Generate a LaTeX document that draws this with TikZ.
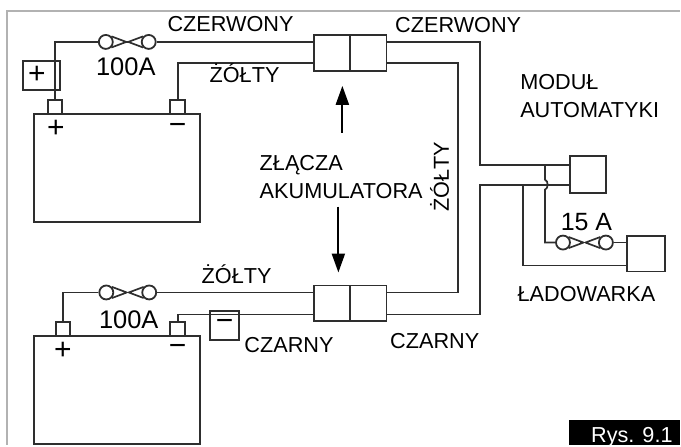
\documentclass[tikz,border=0pt]{standalone}
\usepackage{fontspec}
\setmainfont{Liberation Sans}
\usetikzlibrary{arrows.meta,positioning}

\begin{document}
\begin{tikzpicture}[
  x=1pt, y=-1pt,
  >={Triangle[length=19pt,width=13pt]},
  wire/.style={line width=1.7pt, draw=black!82},
  unit/.style={
    draw=black!82, line width=1.9pt,
    inner sep=0pt, outer sep=0pt
  },
  battery/.style={unit, minimum width=166pt, minimum height=108pt},
  terminal/.style={unit, minimum width=14.5pt, minimum height=14pt, anchor=south},
  halfplug/.style={unit, minimum width=36.5pt, minimum height=36pt},
  label/.style={
    font=\fontsize{21.7}{24}\selectfont,
    inner sep=0pt, text height=15.5pt, text depth=0pt
  },
  rating/.style={label, font=\fontsize{25.5}{28}\selectfont, text height=18.3pt},
  sign/.style={inner sep=0pt, font=\fontsize{30}{32}\selectfont},
  pointer/.style={->, line width=2.2pt, black},
  lobe/.style={draw=black!82, line width=1.8pt, circle, minimum size=14pt, inner sep=0pt},
  fuse/.pic={
    \node[lobe] (-a) at (-21.5,0) {};
    \node[lobe] (-b) at (21.5,0) {};
    \draw[wire, line join=round] (-a.north east) -- (-1,0) -- (-a.south east);
    \draw[wire, line join=round] (-b.north west) -- (1,0) -- (-b.south west);
    \draw[wire] (-4,0) -- (4,0);
  }
]

% Frame
\draw[line width=2.5pt, black!30] (681,11) -- (7,11) -- (7,446);

% Batteries
\node[battery] (batA) at (117,168) {};
\node[battery] (batB) at (117,391) {};
\node[terminal] (posA) at (55,114) {};
\node[terminal] (negA) at (178,114) {};
\node[terminal] (posB) at (63,337) {};
\node[terminal] (negB) at (178,337) {};
\node[sign] at (56,129) {+};
\node[sign] at (178,129) {−};
\node[sign] at (63,351) {+};
\node[sign] at (178,351) {−};

% Sign boxes
\node[unit, minimum width=37pt, minimum height=29pt] (plusBox) at (41.5,75.5) {};
\node[sign] at (37,75) {+};
\node[unit, minimum width=29pt, minimum height=29pt] (minusBox) at (224.5,326.5) {};
\node[sign] at (225,326) {−};

% Plugs
\node[halfplug] (plugAl) at (332.5,53) {};
\node[halfplug, right=0pt of plugAl] (plugAr) {};
\node[halfplug] (plugBl) at (332.5,304) {};
\node[halfplug, right=0pt of plugBl] (plugBr) {};

% Module and charger
\node[unit, minimum width=36pt, minimum height=37pt] (module) at (589,174.5) {};
\node[unit, minimum width=38pt, minimum height=36pt] (charger) at (647,254) {};

% Fuses
\pic (fuseA) at (127.5,42) {fuse};
\pic (fuseB) at (128,293) {fuse};
\pic (fuseC) at (585.5,243) {fuse};

% Wires, first battery
\draw[wire] (posA.north) |- (fuseA-a.west);
\draw[wire] (fuseA-b.east) -- (fuseA-b.east -| plugAl.west);
\draw[wire] (negA.north) |- (plugAl.west |- 0,63);

% Wires, second battery
\draw[wire] (posB.north) |- (fuseB-a.west);
\draw[wire] (fuseB-b.east) -- (fuseB-b.east -| plugBl.west);
\draw[wire] (negB.north) |- (plugBl.west |- 0,315);

% Wires between plugs and module
\draw[wire] (plugAr.east |- 0,42) -| (481,165) -- (module.west |- 0,165);
\draw[wire] (plugAr.east |- 0,63) -| (459,293) -- (plugBr.east |- 0,293);
\draw[wire] (plugBr.east |- 0,315) -| (481,185) -- (module.west |- 0,185);

% Charger branches
\draw[wire] (524,185) |- (charger.west |- 0,266);
\draw[wire] (546,165) -- (546,180) .. controls (549.5,181) and (549.5,189) .. (546,190)
  |- (fuseC-a.west);
\draw[wire] (fuseC-b.east) -- (fuseC-b.east -| charger.west);

% Arrows
\coordinate (upTail) at (343,133);
\coordinate (upTip) at (343,86);
\coordinate (downTail) at (339,207);
\coordinate (downTip) at (339,273);
\draw[pointer] (upTail) -- (upTip);
\draw[pointer] (downTail) -- (downTip);

% Labels
\node[label] (redA) at (231,24) {CZERWONY};
\node[label] (redB) at (459,25) {CZERWONY};
\node[label] (yelA) at (245,75) {ŻÓŁTY};
\node[label] (yelB) at (237,276) {ŻÓŁTY};
\node[label, rotate=90] (yelC) at (442,177) {ŻÓŁTY};
\node[label, anchor=west] (joint) at (260,163) {ZŁĄCZA};
\node[label, anchor=west] (jointB) at (260,191) {AKUMULATORA};
\node[label, anchor=west] (modA) at (521,82) {MODUŁ};
\node[label, anchor=west] (modB) at (521,110) {AUTOMATYKI};
\node[label] (chargerText) at (587.5,294) {ŁADOWARKA};
\node[label] (blackA) at (289.5,345) {CZARNY};
\node[label] (blackB) at (435.5,341) {CZARNY};
\node[rating] (ratingA) at (126,66) {100A};
\node[rating] (ratingB) at (129,320) {100A};
\node[rating, font=\fontsize{25}{28}\selectfont, text height=18pt] (ratingC) at (587.5,222) {15 A};

% Figure tag
\fill[black] (570,421) rectangle (681,446);
\node[label, white, anchor=base west, text height=0pt] (tag) at (592,443) {Rys. 9.1};

\useasboundingbox (0,0) rectangle (681,446);
\end{tikzpicture}
\end{document}
